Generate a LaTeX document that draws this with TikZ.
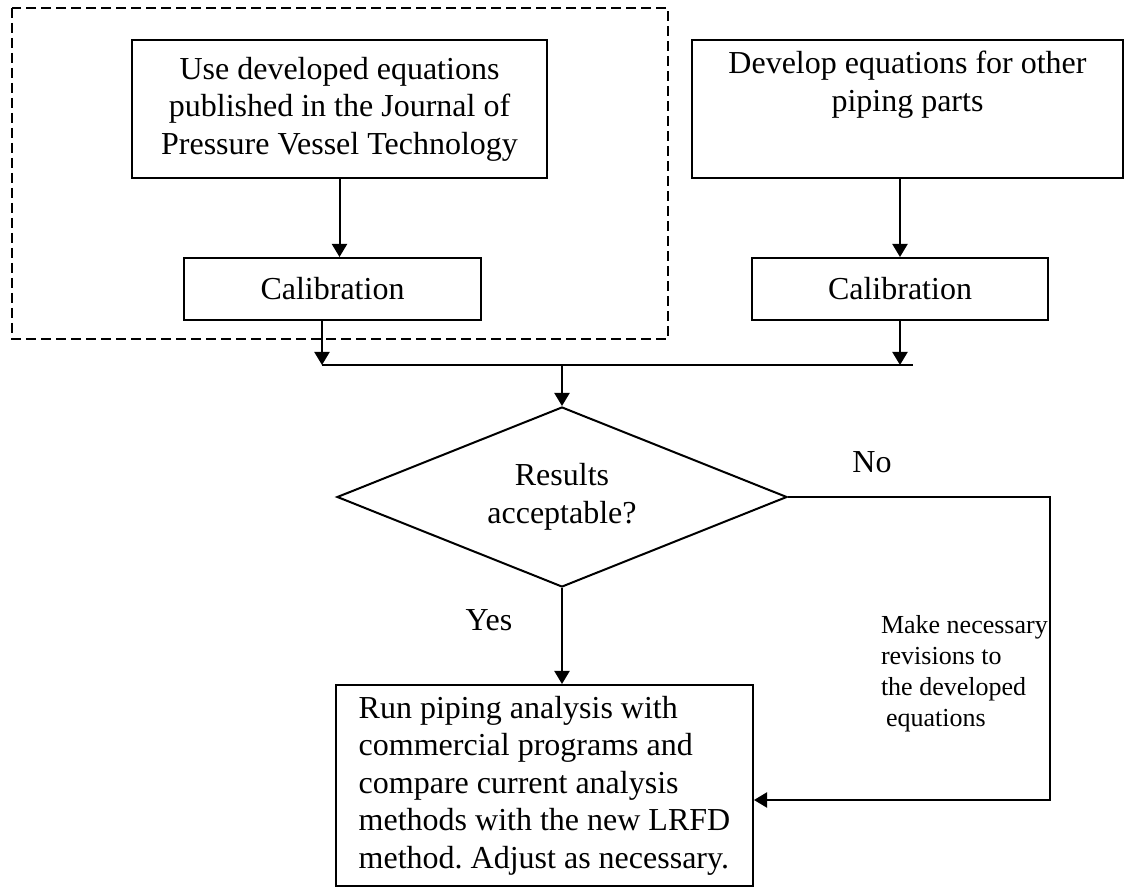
\documentclass[tikz,border=0pt]{standalone}
\usepackage{fontspec}
\setmainfont{Liberation Serif}
\usepackage{xcolor}
\usepackage{tikz}
\usetikzlibrary{calc}
\usetikzlibrary{arrows.meta}
\usetikzlibrary{shapes.geometric}
\frenchspacing

\begin{document}
\begin{tikzpicture}[x=0.5pt,y=-0.5pt,line width=1pt,
		font=\fontsize{16pt}{18.75pt}\selectfont,
		box/.style={draw,rectangle,align=center,inner sep=0pt},
		arr/.style={-{Triangle[length=6.5pt,width=7.5pt]}}]
		\def\bh{69pt}
		\useasboundingbox (0,0) rectangle (1125,892);
		% group of the published equations
		\draw [dash pattern=on 5pt off 2.5pt,line width=0.8pt] (12,8) rectangle (668,339);
		\node [box,minimum width=207.5pt,minimum height=\bh] (pub) at (339.5,109)
			{Use developed equations\\published in the Journal of\\Pressure Vessel Technology};
		\node [box,minimum width=148.5pt,minimum height=31pt] (cal1) at (332.5,289) {Calibration};
		\node [box,minimum width=215.5pt,minimum height=\bh] (dev) at (907.5,109) {};
		\node [anchor=north,align=center,inner sep=0pt] (devtext) at (907.5,50)
			{Develop equations for other\\piping parts};
		\node [box,minimum width=148pt,minimum height=31pt] (cal2) at (900,289) {Calibration};
		\node [draw,diamond,aspect=2.5,minimum width=225pt,minimum height=90pt,
			inner sep=0pt,align=center] (ok) at (562,497) {Results\\acceptable?};
		\node [draw,rectangle,inner sep=0pt,minimum width=208.5pt,
			minimum height=100.5pt,align=left] (run) at (544.5,785.5)
			{Run piping analysis with\\commercial programs and\\compare current analysis\\methods with the new LRFD\\method. Adjust as necessary.};
		\node (no) at (872,462) {No};
		\node (yes) at (489,620) {Yes};
		\node [anchor=north west,align=left,inner sep=0pt,
			font=\fontsize{13pt}{15.5pt}\selectfont] (fix) at (880,614)
			{Make necessary\\revisions to\\the developed\\\hspace{2.5pt}equations};
		\coordinate (lineL) at (322,365);
		\coordinate (lineR) at (913,365);
		\coordinate (back) at (1050,800);
		\draw [arr] (pub.south) -- (pub.south |- cal1.north);
		\draw [arr] (cal2.north |- dev.south) -- (cal2.north);
		\draw [arr] (cal1.south -| lineL) -- (lineL);
		\draw [arr] (cal2.south) -- (cal2.south |- lineR);
		\draw (lineL) -- (lineR);
		\draw [arr] (ok.north |- lineL) -- (ok.north);
		\draw [arr] (ok.south) -- (ok.south |- run.north);
		\draw [arr] (ok.east) -| (back) -- (run.east |- back);
	\end{tikzpicture}
\end{document}
